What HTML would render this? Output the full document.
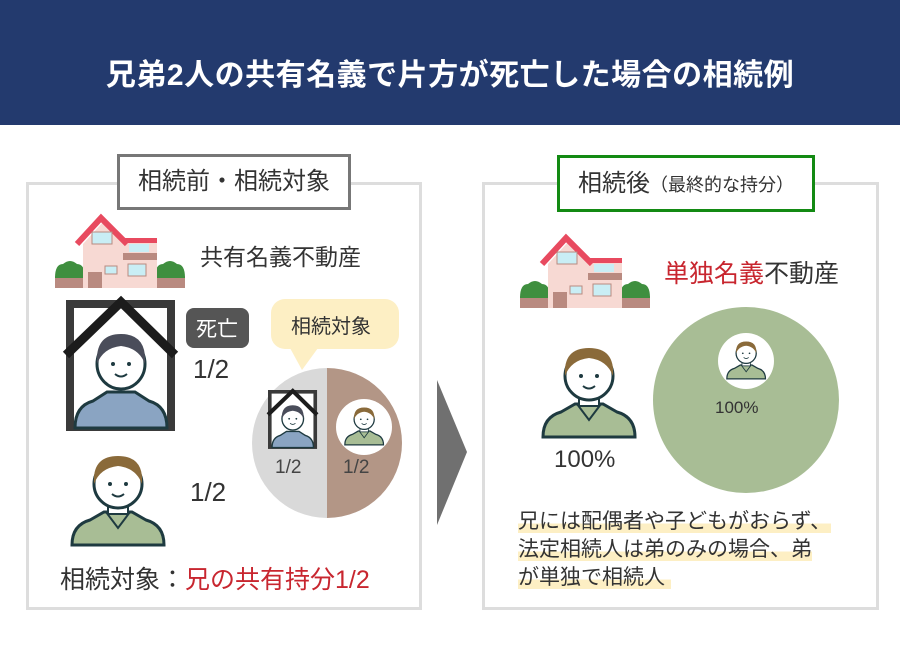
<!DOCTYPE html>
<html><head><meta charset="utf-8"><style>
body{margin:0;width:900px;height:650px;background:#fff;position:relative;overflow:hidden;font-family:"Liberation Sans","Noto Sans CJK JP",sans-serif;color:#333}
.a{position:absolute;white-space:nowrap}
.hl{background:linear-gradient(transparent 58%,#fdefc4 58%)}
</style></head><body>
<div class="a" style="left:0;top:0;width:900px;height:125px;background:#233a6e"></div>
<div class="a" style="left:0;top:50px;width:900px;text-align:center;color:#fff;font-size:30px;font-weight:bold;letter-spacing:0.5px">兄弟2人の共有名義で片方が死亡した場合の相続例</div>

<div class="a" style="left:26px;top:182px;width:390px;height:422px;border:3px solid #ddd"></div>
<div class="a" style="left:117px;top:154px;width:228px;height:50px;border:3px solid #777;background:#fff;font-size:24px;line-height:50px;text-align:center;color:#333">相続前・相続対象</div>

<div class="a" style="left:482px;top:182px;width:391px;height:422px;border:3px solid #ddd"></div>
<div class="a" style="left:557px;top:155px;width:252px;height:51px;border:3px solid #138a13;background:#fff;font-size:24px;line-height:51px;text-align:center;color:#333">相続後<span style="font-size:18px">（最終的な持分）</span></div>

<svg class="a" style="left:0;top:0" width="900" height="650">
<defs>
<g id="house">
<rect x="0" y="62" width="30" height="12" fill="#b98a80"/><path d="M0,64 Q0,50 8,50 Q15,44 22,50 Q30,50 30,64Z" fill="#3f8f3f"/>
<rect x="100" y="62" width="30" height="12" fill="#b98a80"/><path d="M100,64 Q100,50 108,50 Q115,44 122,50 Q130,50 130,64Z" fill="#3f8f3f"/>
<polygon points="28,30 48,8 68,30 68,74 28,74" fill="#f7d9d3"/>
<rect x="68" y="28" width="34" height="46" fill="#f7d9d3"/>
<polyline points="22,30 46,4 72,30" fill="none" stroke="#e84a5f" stroke-width="6"/>
<rect x="68" y="24" width="34" height="5" fill="#e84a5f"/>
<rect x="68" y="39" width="34" height="7" fill="#b98a80"/>
<rect x="37" y="18" width="20" height="12" fill="#c9eef5" stroke="#b98a80"/>
<rect x="74" y="30" width="20" height="8" fill="#c9eef5"/>
<rect x="33" y="58" width="14" height="16" fill="#b98a80"/>
<rect x="50" y="52" width="12" height="8" fill="#c9eef5" stroke="#b98a80"/>
<rect x="73" y="50" width="18" height="12" fill="#c9eef5" stroke="#b98a80"/>
</g>
<g id="man">
<path d="M2,95 Q2,75 20,70 L34,62 L62,62 L76,70 Q94,75 94,95 Z" fill="#a8bd95" stroke="#1e3a40" stroke-width="3"/>
<path d="M36,62 L48,78 L60,62" fill="none" stroke="#1e3a40" stroke-width="2"/>
<rect x="38" y="48" width="20" height="16" fill="#fff" stroke="#1e3a40" stroke-width="2"/>
<ellipse cx="48" cy="34" rx="24" ry="24" fill="#fff" stroke="#1e3a40" stroke-width="3"/>
<path d="M24,34 Q22,6 48,6 Q74,6 72,34 Q66,18 48,16 Q30,18 24,34Z" fill="#8a6a3a"/>
<circle cx="40" cy="34" r="2" fill="#1e3a40"/><circle cx="56" cy="34" r="2" fill="#1e3a40"/>
<path d="M42,44 Q48,49 54,44" fill="none" stroke="#1e3a40" stroke-width="2"/>
</g>
<g id="dead">
<rect x="4" y="4" width="101" height="123" fill="#fff" stroke="#3a3a3a" stroke-width="8"/>
<g transform="translate(7,24)">
<path d="M2,104 Q2,82 20,77 L34,68 L62,68 L76,77 Q94,82 94,104 Z" fill="#8aa4c2" stroke="#1e3a40" stroke-width="3"/>
<ellipse cx="48" cy="40" rx="24" ry="25" fill="#fff" stroke="#1e3a40" stroke-width="3"/>
<path d="M24,40 Q22,10 48,10 Q74,10 72,40 Q66,24 48,22 Q30,24 24,40Z" fill="#4a4d5a"/>
<circle cx="40" cy="40" r="2" fill="#1e3a40"/><circle cx="56" cy="40" r="2" fill="#1e3a40"/>
<path d="M42,50 Q48,55 54,50" fill="none" stroke="#1e3a40" stroke-width="2"/>
</g>
<polyline points="0,55 55,2 109,55" fill="none" stroke="#1c1c1c" stroke-width="9"/>
</g>
</defs>
<use href="#house" x="55" y="214"/>
<use href="#house" x="520" y="234" />
<use href="#dead" x="66" y="300"/>
<use href="#man" transform="translate(70,450)"/>
<use href="#man" transform="translate(541,342)"/>
<rect x="186" y="308" width="63" height="40" rx="8" fill="#555"/>
<text x="217" y="336" fill="#fff" font-size="21" text-anchor="middle" font-family="Liberation Sans,Noto Sans CJK JP,sans-serif">死亡</text>
<rect x="271" y="299" width="128" height="50" rx="14" fill="#fdefc4"/>
<polygon points="290,348 318,348 302,370" fill="#fdefc4"/>
<path d="M327,368 A75,75 0 0 0 327,518 Z" fill="#d9d9d9"/>
<path d="M327,368 A75,75 0 0 1 327,518 Z" fill="#b39686"/>
<g transform="translate(268,390) scale(0.45)"><use href="#dead"/></g>
<circle cx="364" cy="427" r="28" fill="#fff"/>
<g transform="translate(344,405) scale(0.42)"><use href="#man"/></g>
<polygon points="437,380 467,452 437,525" fill="#707070"/>
<circle cx="746" cy="400" r="93" fill="#a8bd95"/>
<circle cx="746" cy="361" r="28" fill="#fff"/>
<g transform="translate(726,339) scale(0.42)"><use href="#man"/></g>
</svg>

<div class="a" style="left:200px;top:238px;font-size:23px">共有名義不動産</div>
<div class="a" style="left:291px;top:310px;font-size:20px">相続対象</div>
<div class="a" style="left:193px;top:354px;font-size:26px">1/2</div>
<div class="a" style="left:190px;top:477px;font-size:26px">1/2</div>
<div class="a" style="left:275px;top:457px;font-size:19px;color:#444">1/2</div>
<div class="a" style="left:343px;top:457px;font-size:19px;color:#444">1/2</div>
<div class="a" style="left:60px;top:560px;font-size:25px">相続対象：<span style="color:#c8262f">兄の共有持分1/2</span></div>

<div class="a" style="left:664px;top:254px;font-size:25px"><span style="color:#c8262f">単独名義</span>不動産</div>
<div class="a" style="left:554px;top:446px;font-size:24px">100%</div>
<div class="a" style="left:715px;top:398px;font-size:17px;color:#333">100%</div>
<div class="a" style="left:518px;top:508px;font-size:21px;line-height:28px">
<span class="hl">兄には配偶者や子どもがおらず、</span><br><span class="hl">法定相続人は弟のみの場合、弟</span><br><span class="hl">が単独で相続人&nbsp;</span></div>
</body></html>
